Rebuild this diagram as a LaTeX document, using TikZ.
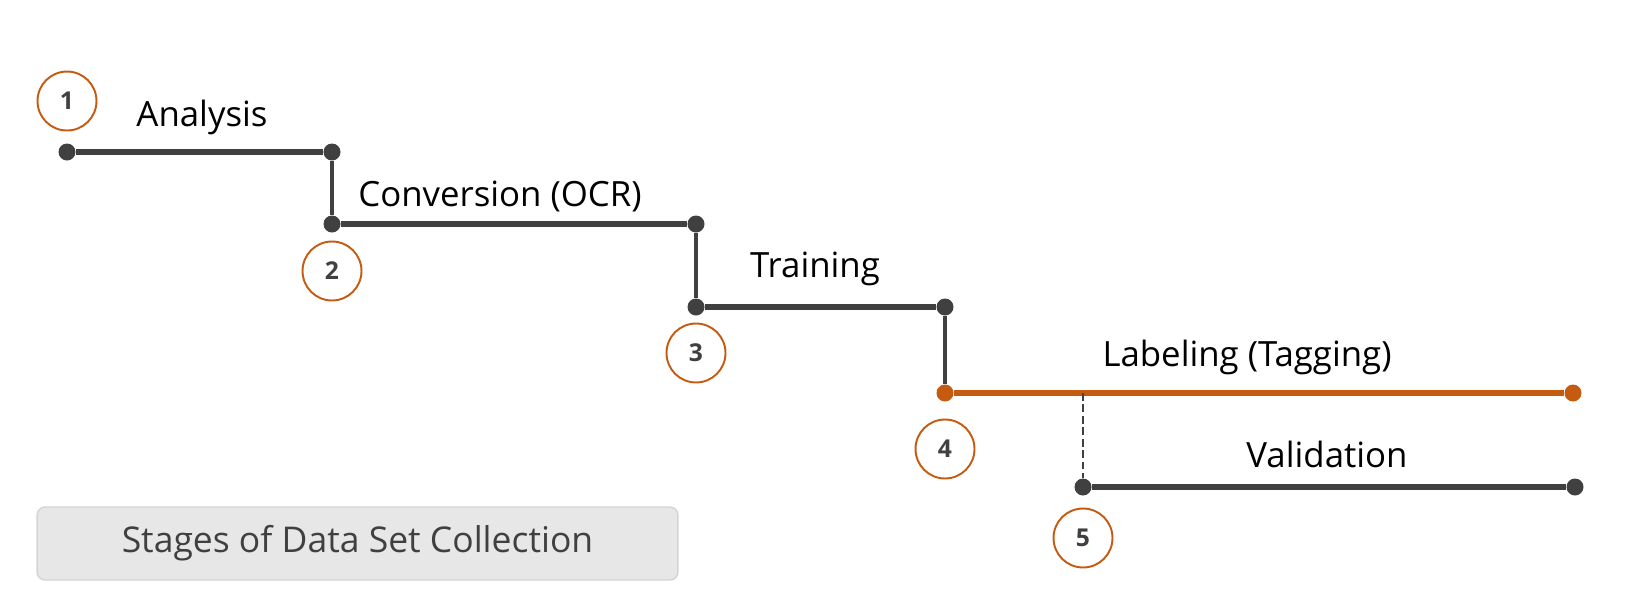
\documentclass[tikz,border=0pt]{standalone}
\usepackage{fontspec}
\setmainfont{Open Sans}
\usetikzlibrary{positioning}
\definecolor{linegray}{HTML}{404040}
\definecolor{stageorange}{HTML}{C55A11}
\definecolor{boxfill}{HTML}{E7E7E7}
\definecolor{boxline}{HTML}{D4D4D4}
\tikzset{
	dot/.style={circle, inner sep=0pt, minimum size=0.34cm, fill=linegray},
	odot/.style={circle, inner sep=0pt, minimum size=0.34cm, fill=stageorange},
	num/.style={draw=stageorange, circle, line width=1.1pt, inner sep=0pt, minimum size=1.18cm, text=linegray, font=\fontsize{14}{16}\selectfont\bfseries},
	stage/.style={anchor=base, inner sep=0pt, text=black, font=\fontsize{19.8}{24}\selectfont},
	% caption box bottom left
	title/.style={draw=boxline, fill=boxfill, line width=0.8pt, rounded corners=0.16cm, minimum width=12.82cm, minimum height=1.46cm, text=linegray, font=\fontsize{20.2}{24}\selectfont},
}

\begin{document}
\begin{tikzpicture}[x=0.02cm, y=-0.02cm]
			\useasboundingbox (0,0) rectangle (1628,606);
			
			\node (a1) [dot] at (67,152) {};
			\node (a2) [dot] at (332,152) {};
			\node (b1) [dot] at (332,224) {};
			\node (b2) [dot] at (696,224) {};
			\node (c1) [dot] at (696,307) {};
			\node (c2) [dot] at (945,307) {};
			\node (d1) [odot] at (945,393) {};
			\node (d2) [odot] at (1573,393) {};
			\coordinate (d3) at (1083,393);
			\node (e1) [dot] at (1083,487) {};
			\node (e2) [dot] at (1575,487) {};
			
			\node (n1) [num, above of=a1, node distance=1.02cm] {1};
			\node (n2) [num, below of=b1, node distance=0.94cm] {2};
			\node (n3) [num, below of=c1, node distance=0.92cm] {3};
			\node (n4) [num, below of=d1, node distance=1.12cm] {4};
			\node (n5) [num, below of=e1, node distance=1.02cm] {5};
			
			\node (analysis) [stage] at (202,126) {Analysis};
			\node (conversion) [stage] at (500,206) {Conversion (OCR)};
			\node (training) [stage] at (815,277) {Training};
			\node (labeling) [stage] at (1247,366) {Labeling (Tagging)};
			\node (validation) [stage] at (1327,467) {Validation};
			
			\node (caption) [title] at (357.5,543.5) {Stages of Data Set Collection};
			
			\begin{scope}[linegray, line width=3.1pt]
				\draw (a1) -- (a2);
				\draw (b1) -- (b2);
				\draw (c1) -- (c2);
				\draw (e1) -- (e2);
				\draw [stageorange] (d1) -- (d2);
			\end{scope}
			\begin{scope}[linegray, line width=1.8pt]
				\draw (a2) -- (b1);
				\draw (b2) -- (c1);
				\draw (c2) -- (d1);
				\draw [line width=1.5pt, dash pattern=on 4.5pt off 2pt] (d3) -- (e1);
			\end{scope}
		\end{tikzpicture}
\end{document}
